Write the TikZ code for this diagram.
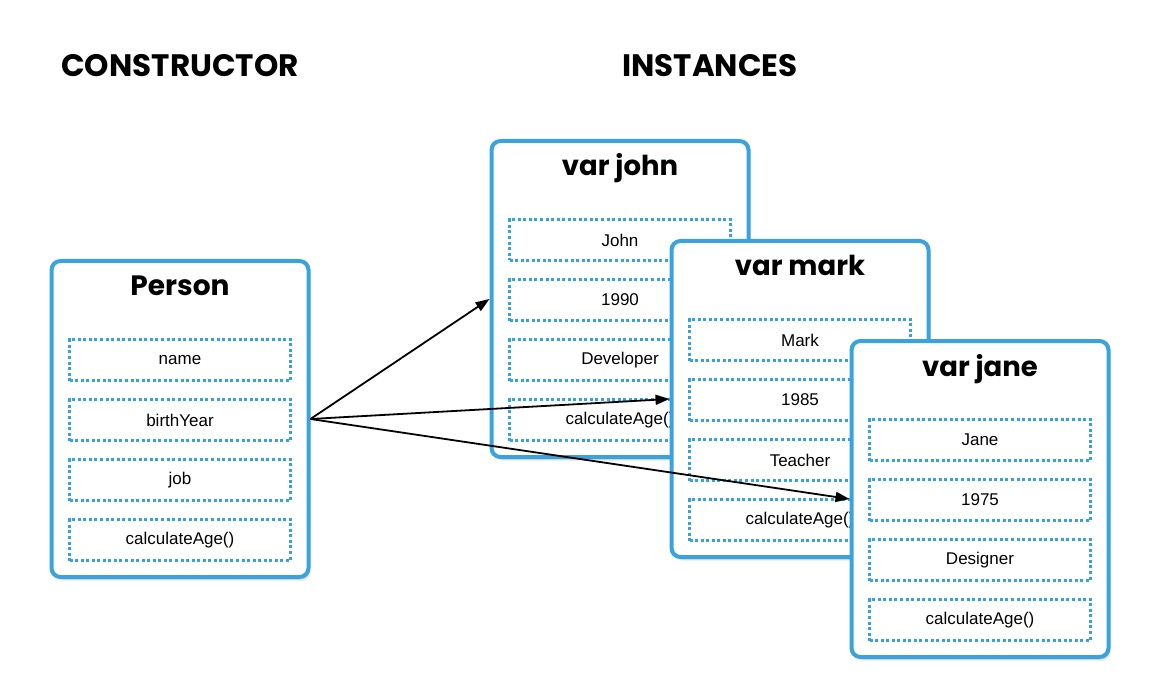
\documentclass[tikz,border=0pt]{standalone}
\usepackage{fontspec}
\setmainfont{Liberation Sans}
\newfontfamily\handfont{Poppins}
\usetikzlibrary{shadows,arrows.meta}
\definecolor{cardblue}{HTML}{3AA3DF}
\definecolor{dotblue}{HTML}{35A2E0}
\tikzset{
  card/.style={draw=cardblue, line width=4pt, fill=white, rounded corners=9pt,
    minimum width=257pt, minimum height=316pt, inner sep=0pt,
    drop shadow={opacity=0.12, shadow xshift=2.5pt, shadow yshift=-4pt},
    drop shadow={opacity=0.25, shadow xshift=1.5pt, shadow yshift=-2.5pt}},
  field/.style={draw=dotblue, line width=3pt, dash pattern=on 3pt off 2.55pt,
    line cap=butt, minimum width=221pt, minimum height=41pt, inner sep=0pt,
    font=\fontsize{17}{20}\selectfont},
  persontitle/.style={anchor=base, inner sep=0pt, font=\handfont\bfseries\fontsize{28}{32}\selectfont},
  cardtitle/.style={anchor=base, inner sep=0pt, font=\handfont\bfseries\fontsize{27.5}{31}\selectfont},
  header/.style={anchor=base, inner sep=0pt, font=\handfont\bfseries\fontsize{31}{36}\selectfont},
  arr/.style={draw=black, line width=1.8pt, -{Triangle[length=14pt,width=10pt]}}
}
\newcommand\mkcard[6]{%
  \node[card] (#1) at (#2,#3) {};
  \node[#5] (#1title) at (#2,#3-123) {#4};
  \foreach \t [count=\i from 0] in {#6}
    \node[field] (#1f\i) at (#2,{#3-59+60*\i}) {\t};
}
\begin{document}
\begin{tikzpicture}[x=1pt,y=-1pt]
\useasboundingbox (0,0) rectangle (1150,700);
\node[header] (hcons) at (180,77) {CONSTRUCTOR};
\node[header] (hinst) at (710,77) {INSTANCES};
\mkcard{person}{180}{419}{Person}{persontitle}{name,birthYear,job,calculateAge()}
\mkcard{john}{620}{299}{var john}{cardtitle}{John,1990,Developer,calculateAge()}
\mkcard{mark}{800}{399}{var mark}{cardtitle}{Mark,1985,Teacher,calculateAge()}
\mkcard{jane}{980}{499}{var jane}{cardtitle}{Jane,1975,Designer,calculateAge()}
\draw[arr] (person.east) -- (john.west);
\draw[arr] (person.east) -- (mark.west);
\draw[arr] (person.east) -- (jane.west);
\end{tikzpicture}
\end{document}
